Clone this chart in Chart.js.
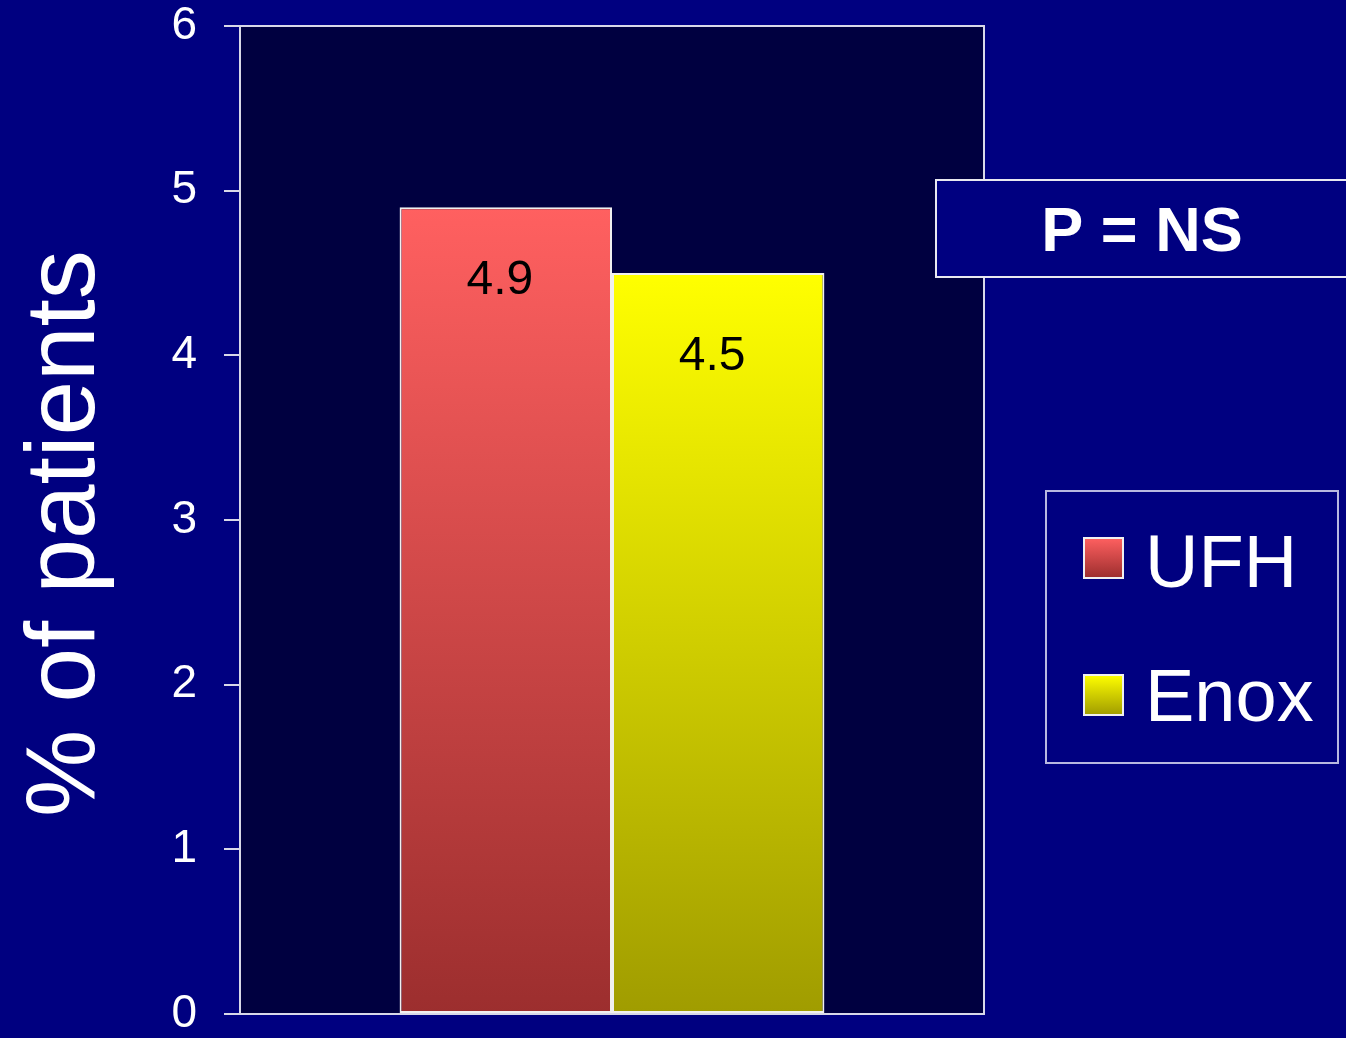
<!DOCTYPE html>
<html>
<head>
<meta charset="utf-8">
<script src="https://cdn.jsdelivr.net/npm/chart.js@4"></script>
<style>
  html, body { margin: 0; padding: 0; background: #000080; }
  #wrap { width: 1346px; height: 1038px; }
</style>
</head>
<body>
<div id="wrap"><canvas id="myChart" width="1346" height="1038"></canvas></div>
<script>
// data
var categories = ["Outcome"];
var seriesNames = ["UFH", "Enox"];
var ufhValues = [4.9];
var enoxValues = [4.5];
var yTicks = [0, 1, 2, 3, 4, 5, 6];
var pText = "P = NS";

// top / bottom colours of each bar gradient
var gradColors = {
  UFH: ["#ff6060", "#9c2e2e"],
  Enox: ["#ffff00", "#a09c00"]
};
// how far below the bar top each value label sits
var labelOffsets = [74, 84];

function barGradient(ctx, name, top, bottom) {
  var g = ctx.createLinearGradient(0, top, 0, bottom);
  g.addColorStop(0, gradColors[name][0]);
  g.addColorStop(1, gradColors[name][1]);
  return g;
}

function fillFor(name) {
  return function (context) {
    var chart = context.chart;
    if (!chart.chartArea || context.parsed == null) return gradColors[name][0];
    var y = chart.scales.y;
    return barGradient(chart.ctx, name, y.getPixelForValue(context.parsed.y), y.getPixelForValue(0));
  };
}

// dark plot area + frame
var plotFrame = {
  id: "plotFrame",
  beforeDatasetsDraw: function (chart) {
    var a = chart.chartArea, ctx = chart.ctx;
    ctx.save();
    ctx.fillStyle = "#000040";
    ctx.fillRect(a.left, a.top, a.right - a.left, a.bottom - a.top);
    ctx.restore();
  },
  afterDatasetsDraw: function (chart) {
    var a = chart.chartArea, ctx = chart.ctx;
    ctx.save();
    ctx.strokeStyle = "#d8d8e8";
    ctx.lineWidth = 2;
    ctx.strokeRect(a.left, a.top, a.right - a.left, a.bottom - a.top);

    // value labels inside the bars
    ctx.fillStyle = "#000000";
    ctx.font = "48px 'Liberation Sans', Arial, sans-serif";
    ctx.textAlign = "center";
    ctx.textBaseline = "middle";
    chart.data.datasets.forEach(function (ds, i) {
      chart.getDatasetMeta(i).data.forEach(function (bar, j) {
        ctx.fillText(ds.data[j].toFixed(1), bar.x - 6, bar.y + labelOffsets[i]);
      });
    });
    ctx.restore();
  },
  afterDraw: function (chart) {
    var ctx = chart.ctx;
    ctx.save();
    // P = NS box
    ctx.fillStyle = "#000080";
    ctx.fillRect(935, 180, 420, 97);
    ctx.strokeStyle = "#e8e8f0";
    ctx.lineWidth = 2;
    ctx.strokeRect(936, 180, 420, 97);
    ctx.fillStyle = "#ffffff";
    ctx.font = "bold 63px 'Liberation Sans', Arial, sans-serif";
    ctx.textAlign = "center";
    ctx.textBaseline = "alphabetic";
    ctx.fillText(pText, 1142, 251);

    // legend box
    ctx.strokeStyle = "#b8b8e0";
    ctx.strokeRect(1046, 491, 292, 272);
    var rows = [{ y: 538, base: 587 }, { y: 675, base: 721 }];
    chart.data.datasets.forEach(function (ds, i) {
      var r = rows[i];
      ctx.fillStyle = barGradient(ctx, ds.label, r.y, r.y + 40);
      ctx.fillRect(1084, r.y, 39, 40);
      ctx.strokeStyle = "#f0f0f0";
      ctx.lineWidth = 2;
      ctx.strokeRect(1084, r.y, 39, 40);
      ctx.fillStyle = "#ffffff";
      ctx.font = "74px 'Liberation Sans', Arial, sans-serif";
      ctx.textAlign = "left";
      ctx.fillText(ds.label, 1145, r.base);
    });
    ctx.restore();
  }
};

new Chart(document.getElementById("myChart"), {
  type: "bar",
  data: {
    labels: categories,
    datasets: [
      { label: seriesNames[0], data: ufhValues, backgroundColor: fillFor("UFH"),
        borderColor: "#f0f0f0", borderWidth: 2, borderSkipped: false },
      { label: seriesNames[1], data: enoxValues, backgroundColor: fillFor("Enox"),
        borderColor: "#f0f0f0", borderWidth: 2, borderSkipped: false }
    ]
  },
  options: {
    responsive: false,
    animation: false,
    layout: { padding: { top: 26, right: 362, bottom: 24, left: 0 } },
    datasets: { bar: { barPercentage: 1, categoryPercentage: 0.571 } },
    plugins: { legend: { display: false }, tooltip: { enabled: false } },
    scales: {
      x: { display: false },
      y: {
        min: 0, max: 6,
        afterBuildTicks: function (scale) {
          scale.ticks = yTicks.map(function (v) { return { value: v }; });
        },
        afterFit: function (scale) {
          scale.width = 240;
          scale.paddingTop = 0;
          scale.paddingBottom = 0;
        },
        border: { display: true, color: "#d8d8e8", width: 2 },
        grid: { drawOnChartArea: false, drawTicks: true, tickLength: 16, color: "#d8d8e8", lineWidth: 2 },
        ticks: {
          color: "#ffffff", padding: 27,
          font: { family: "'Liberation Sans', Arial, sans-serif", size: 46 }
        },
        title: {
          display: true, text: "% of patients ", color: "#ffffff",
          padding: { top: 8, bottom: 0 },
          font: { family: "'Liberation Sans', Arial, sans-serif", size: 98 }
        }
      }
    }
  },
  plugins: [plotFrame]
});
</script>
</body>
</html>
